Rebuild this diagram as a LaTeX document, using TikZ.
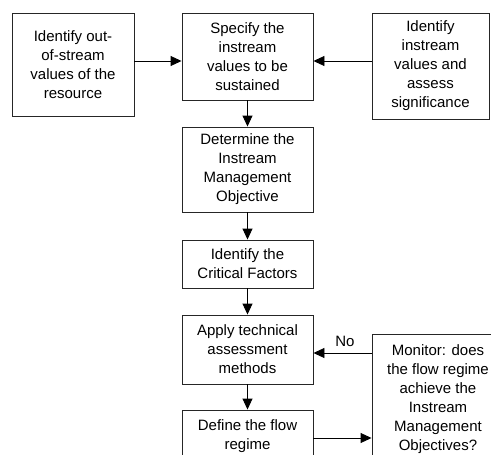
\documentclass[tikz,border=0pt]{standalone}
\usepackage{fontspec}
\setmainfont{Liberation Sans}
\usetikzlibrary{arrows.meta,calc}
\begin{document}
\begin{tikzpicture}[x=1pt,y=-1pt,
  box/.style={draw=black!85,line width=0.9pt,fill=white,inner sep=0pt,align=center,
    font=\fontsize{15}{19}\selectfont},
  arr/.style={line width=0.9pt,-{Triangle[length=11pt,width=10pt]}},
  lbl/.style={font=\fontsize{15}{19}\selectfont,inner sep=0pt}]
\useasboundingbox (0,0) rectangle (491,455);
\clip (0,0) rectangle (491,455);
\fill[white] (0,0) rectangle (491,455);
\node[box,minimum width=122pt,minimum height=103pt] (out) at (73,64.5)
  {Identify out-\\of-stream\\values of the\\resource};
\node[box,minimum width=131pt,minimum height=87pt] (spec) at (247.5,56.5)
  {Specify the\\instream\\values to be\\sustained};
\node[box,minimum width=117pt,minimum height=106pt] (ident) at (430.5,66)
  {Identify\\instream\\values and\\assess\\significance};
\node[box,minimum width=131pt,minimum height=85pt] (det) at (247.5,169.5)
  {Determine the\\Instream\\Management\\Objective};
\node[box,minimum width=131pt,minimum height=48pt] (crit) at (247.5,264)
  {Identify the\\Critical Factors};
\node[box,minimum width=131pt,minimum height=69pt] (apply) at (247.5,349.5)
  {Apply technical\\assessment\\methods};
\node[box,minimum width=131pt,minimum height=52pt] (define) at (247.5,436)
  {Define the flow\\regime};
\node[box,minimum width=132pt,minimum height=130pt] (monitor) at (438,399)
  {Monitor: does\\the flow regime\\achieve the\\Instream\\Management\\Objectives?};
\draw[arr] ([yshift=3.5pt]out.east) -- ([yshift=-4.5pt]spec.west);
\draw[arr] ([yshift=5pt]ident.west) -- ([yshift=-4.5pt]spec.east);
\draw[arr] (spec.south) -- (det.north);
\draw[arr] (det.south) -- (crit.north);
\draw[arr] (crit.south) -- (apply.north);
\draw[arr] (apply.south) -- (define.north);
\coordinate (ap) at ([yshift=-3.5pt]apply.east);
\draw[arr] (monitor.west |- ap) -- (ap);
\coordinate (dm) at ([yshift=-2pt]define.east);
\draw[arr] (dm) -- (dm -| monitor.west);
\node[lbl] (no) at (345,341) {No};
\end{tikzpicture}
\end{document}
